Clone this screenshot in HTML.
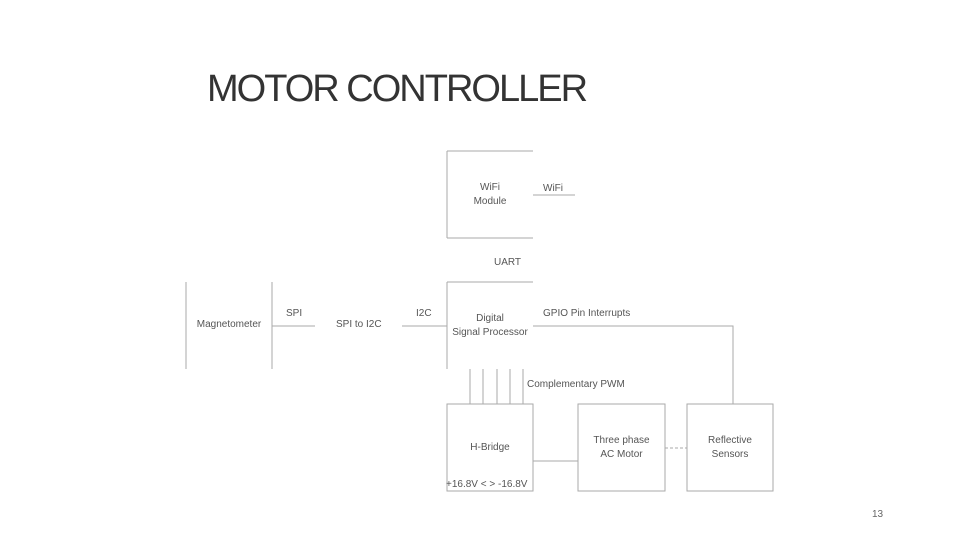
<!DOCTYPE html>
<html><head><style>
body{margin:0;width:960px;height:540px;background:#fff;overflow:hidden;font-family:"Liberation Sans",sans-serif;}
.t{position:absolute;color:#555;font-size:10px;text-align:center;line-height:14px;white-space:nowrap}
</style></head><body>
<div style="position:absolute;left:207px;top:68px;font-size:38px;color:#333;letter-spacing:-2px;font-weight:300">MOTOR CONTROLLER</div>
<svg width="960" height="540" style="position:absolute;left:0;top:0" stroke="#aaa" stroke-width="1" fill="none">
<path d="M447 151H533M447 238H533M447 151V238M533 195H575"/>
<path d="M186 282V369M272 282V369M272 326H315M402 326H447"/>
<path d="M447 282H533M447 282V369M533 326H733V404"/>
<path d="M470 369V404M483 369V404M497 369V404M510 369V404M523 369V404"/>
<rect x="447" y="404" width="86" height="87"/>
<path d="M533 461H578"/>
<rect x="578" y="404" width="87" height="87"/>
<path d="M665 448H687" stroke-dasharray="3,2"/>
<rect x="687" y="404" width="86" height="87"/>
</svg>
<div class="t" style="left:447px;width:86px;top:181px">WiFi<br>Module</div>
<div class="t" style="left:543px;top:182px">WiFi</div>
<div class="t" style="left:494px;top:256px">UART</div>
<div class="t" style="left:186px;width:86px;top:318px">Magnetometer</div>
<div class="t" style="left:286px;top:307px">SPI</div>
<div class="t" style="left:336px;top:318px">SPI to I2C</div>
<div class="t" style="left:416px;top:307px">I2C</div>
<div class="t" style="left:447px;width:86px;top:312px">Digital<br>Signal Processor</div>
<div class="t" style="left:543px;top:307px">GPIO Pin Interrupts</div>
<div class="t" style="left:527px;top:378px">Complementary PWM</div>
<div class="t" style="left:447px;width:86px;top:441px">H-Bridge</div>
<div class="t" style="left:446px;top:478px">+16.8V &lt; &gt; -16.8V</div>
<div class="t" style="left:578px;width:87px;top:434px">Three phase<br>AC Motor</div>
<div class="t" style="left:687px;width:86px;top:434px">Reflective<br>Sensors</div>
<div class="t" style="left:872px;top:508px;color:#666">13</div>
</body></html>
